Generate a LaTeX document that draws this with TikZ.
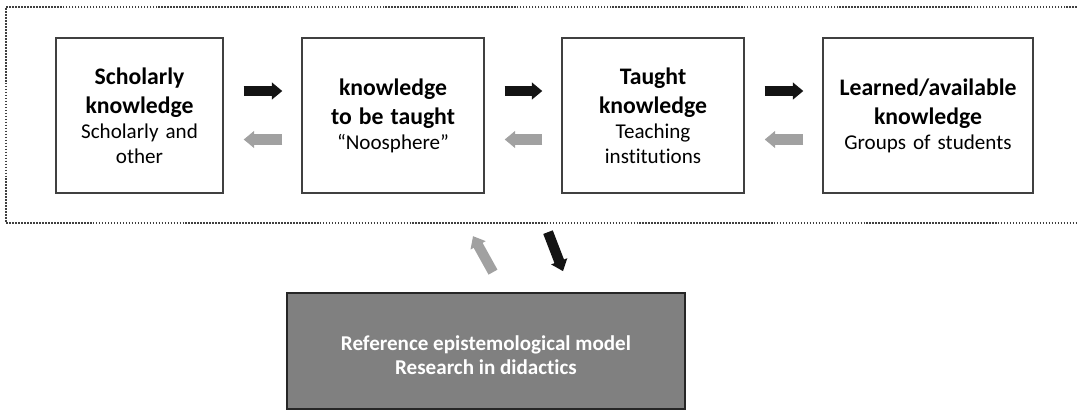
\documentclass[tikz,border=0pt]{standalone}
\usepackage{fontspec}
\setmainfont{Carlito}[Ligatures=NoCommon]
\usetikzlibrary{arrows.meta,calc}
\tikzset{
  stage/.style  ={draw=black!75, line width=0.8pt, inner sep=0pt, minimum height=3.1cm,
                  text width=#1, align=center, font=\fontsize{12}{14.2}\selectfont},
  model/.style  ={draw=black!85, line width=1pt, fill=black!50, inner sep=0pt,
                  minimum width=7.96cm, minimum height=2.32cm},
  modeltxt/.style={text=white, inner sep=0pt, align=center,
                  font=\bfseries\fontsize{12}{13.8}\selectfont},
  frameS/.style ={draw=black!75, line width=1pt, dash pattern=on 0.9pt off 0.8pt},
  fwd/.style    ={draw=black!92, line width=5.8pt, -{Triangle[width=9.5pt,length=6pt]}},
  bwd/.style    ={draw=black!37, line width=5.8pt, -{Triangle[width=9.5pt,length=6pt]}},
}
\newcommand{\hd}{\bfseries\fontsize{13.5}{16.5}\selectfont}

\begin{document}
\begin{tikzpicture}[x=0.02cm,y=-0.02cm]
  \useasboundingbox (0,0) rectangle (1077,410);
  % dotted frame, open on the right
  \draw[frameS] (1080,7) -- (6,7) -- (6,223) -- (1080,223);
  % the four stages
  \node[stage=3.34cm] (s1) at (139.5,115.5) {{\hd Scholarly\\knowledge\par}Scholarly and\\other};
  \node[stage=3.64cm] (s2) at (393,115.5) {{\hd knowledge\\to be taught\par}``Noosphere''};
  \node[stage=3.64cm] (s3) at (653,115.5) {{\hd Taught\\knowledge\par}Teaching\\institutions};
  \node[stage=4.2cm]  (s4) at (928,115.5) {{\hd Learned/available\\knowledge\par}Groups of students};
  \node[model] (model) at (486,351) {};
  \node[modeltxt] (modeltext) at ($(model.center)+(0,4)$) {Reference epistemological model\\Research in didactics};
  % transpositions
  \foreach \a/\b in {s1/s2,s2/s3,s3/s4}{
    \draw[fwd, shorten <=0.4cm, shorten >=0.38cm] ([yshift=0.49cm]\a.east) -- ([yshift=0.49cm]\b.west);
    \draw[bwd, shorten <=0.38cm, shorten >=0.4cm] ([yshift=-0.48cm]\b.west) -- ([yshift=-0.48cm]\a.east);
  }
  \draw[bwd] ($(model.north)+(7,-20)$) -- ($(model.north)+(-13,-56)$);
  \draw[fwd] ($(model.north)+(62,-60)$) -- ($(model.north)+(77,-21)$);
\end{tikzpicture}
\end{document}
